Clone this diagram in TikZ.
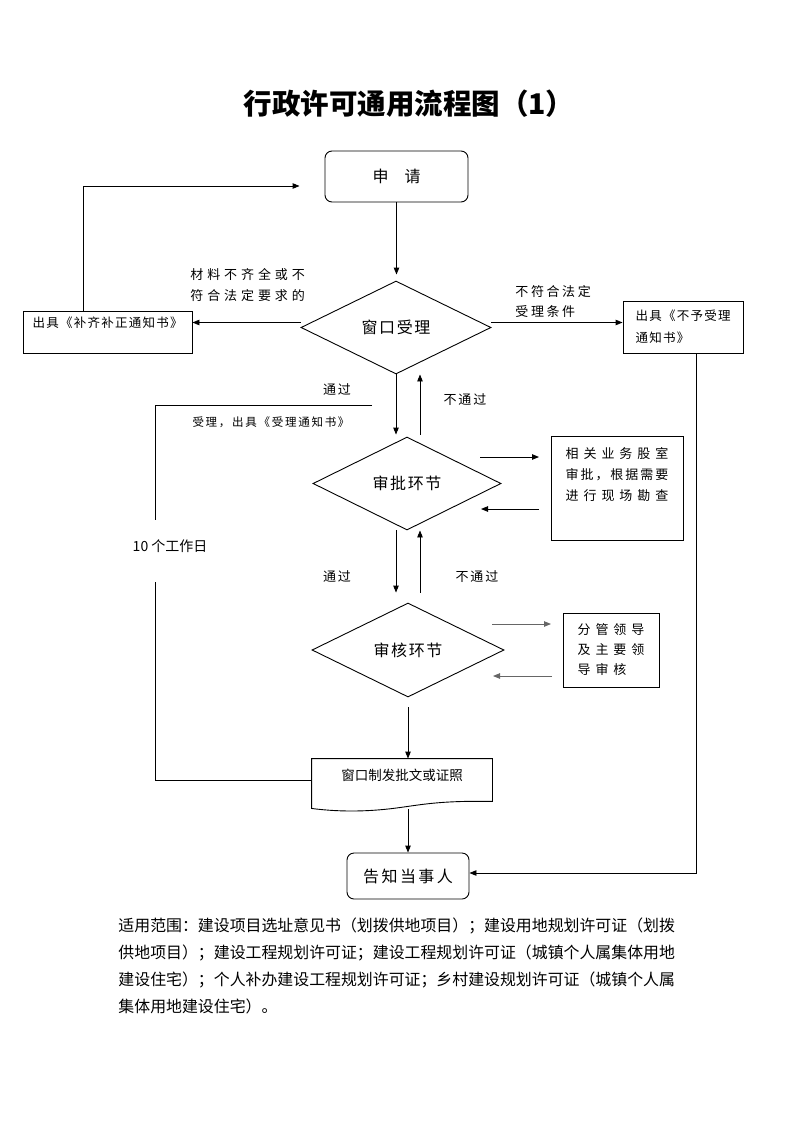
\documentclass[tikz,border=0pt]{standalone}
\usepackage{fontspec}
\setmainfont{Noto Sans CJK SC}
\newfontfamily\lsa[LetterSpace=10]{Noto Sans CJK SC}
\newfontfamily\lsb[LetterSpace=15]{Noto Sans CJK SC}
\newfontfamily\lsc[LetterSpace=20]{Noto Sans CJK SC}
\newfontfamily\lsd[LetterSpace=30]{Noto Sans CJK SC}
\newfontfamily\lse[LetterSpace=38]{Noto Sans CJK SC}
\usetikzlibrary{shapes.geometric,arrows.meta,calc}
\begin{document}
\begin{tikzpicture}[x=1pt,y=-1pt,
  line width=0.9pt,
  arr/.style={-{Triangle[length=7pt,width=5.5pt]}},
  garr/.style={arr,draw=black!60},
  rbox/.style={draw,rounded corners=7pt,inner sep=0pt},
  pbox/.style={draw,inner sep=0pt,align=left},
  dia/.style={draw,diamond,inner sep=0pt},
  lab/.style={inner sep=0pt,align=left}]
\useasboundingbox (0,0) rectangle (793,1122);

% title
\node[inner sep=0pt,font={\fontsize{28.5}{30}\selectfont\bfseries}] (title) at (409,104) {行政许可通用流程图（1）};

% main nodes
\node[rbox,minimum width=143,minimum height=51,font={\fontsize{16}{18}\selectfont}] (apply) at (396.5,176.5) {申\hspace{16pt}请};
\node[dia,minimum width=190,minimum height=93,font={\fontsize{16}{18}\selectfont\lsa}] (d1) at (396,327.5) {窗口受理};
\node[pbox,minimum width=169,minimum height=42,font={\fontsize{12.5}{20}\selectfont\lsa}] (lbox) at (107.5,332) {出具《补齐补正通知书》\\\mbox{}};
\node[pbox,minimum width=120,minimum height=52,font={\fontsize{12.5}{22}\selectfont\lsa}] (rbox) at (683,327) {出具《不予受理\\通知书》};

\node[dia,minimum width=188,minimum height=93,font={\fontsize{16}{18}\selectfont\lsa}] (d2) at (407,483.5) {审批环节};
\node[pbox,minimum width=132,minimum height=104,font={\fontsize{13}{21}\selectfont\lse}] (rb1) at (617,488) {相关业务股室\\\lsb 审批，根据需要\\进行现场勘查\\[7pt]\mbox{}};

\node[dia,minimum width=192,minimum height=94,font={\fontsize{16}{18}\selectfont\lsa}] (d3) at (408,650) {审核环节};
\node[pbox,minimum width=96,minimum height=74,font={\fontsize{13}{20}\selectfont\lse}] (rb2) at (611,650) {分管领导\\及主要领\\导审核};

\node[inner sep=0pt,minimum width=180,minimum height=42] (doc) at (402,780) {};
\node[inner sep=0pt,font={\fontsize{13.5}{15}\selectfont}] (doctext) at (402,775) {窗口制发批文或证照};
\draw (doc.south west) -- (doc.north west) -- (doc.north east) -- (doc.south east)
  .. controls ($(doc.south east)+(-50,-1)$) and ($(doc.south east)+(-70,3)$) .. ($(doc.south east)+(-92,6)$)
  .. controls ($(doc.south east)+(-120,10)$) and ($(doc.south east)+(-150,11)$) .. ($(doc.south west)+(0,7)$)
  -- (doc.south west);

\node[rbox,minimum width=122,minimum height=46,font={\fontsize{16}{18}\selectfont\lsb}] (tell) at (408,876) {告知当事人};

% labels
\node[lab,anchor=west,font={\fontsize{13}{21}\selectfont\lsd}] (l1) at (190,285) {材料不齐全或不\\符合法定要求的};
\node[lab,anchor=west,font={\fontsize{13}{20}\selectfont\lsc}] (l2) at (515,302) {不符合法定\\受理条件};
\node[lab,font={\fontsize{13}{15}\selectfont\lsb}] (l3) at (337,390) {通过};
\node[lab,font={\fontsize{13}{15}\selectfont\lsb}] (l4) at (465,400) {不通过};
\node[lab,font={\fontsize{11.5}{13}\selectfont\lsb}] (l5) at (271,422) {受理，出具《受理通知书》};
\node[lab,font={\fontsize{14}{16}\selectfont}] (l6) at (170,546) {10\hspace{3pt}个工作日};
\node[lab,font={\fontsize{13}{15}\selectfont\lsb}] (l7) at (337,577) {通过};
\node[lab,font={\fontsize{13}{15}\selectfont\lsb}] (l8) at (477,577) {不通过};

% bottom paragraph
\node[lab,anchor=north west,font={\fontsize{15.9}{27.3}\selectfont}] (scope) at (118,917) {适用范围：建设项目选址意见书（划拨供地项目）；建设用地规划许可证（划拨\\
供地项目）；建设工程规划许可证；建设工程规划许可证（城镇个人属集体用地\\
建设住宅）；个人补办建设工程规划许可证；乡村建设规划许可证（城镇个人属\\
集体用地建设住宅）。};

% coordinates
\coordinate (c1) at (83,186);
\coordinate (c2) at (696,873);
\coordinate (c3) at (372,405);
\coordinate (c4) at (155,405);
\coordinate (c5) at (155,520);
\coordinate (c6) at (155,582);
\coordinate (ua) at (420,0);
\coordinate (dn) at (396,0);
\coordinate (a1) at (480,457);
\coordinate (a2) at (539,457);
\coordinate (a3) at (539,509);
\coordinate (a4) at (481,509);
\coordinate (b1) at (492,624);
\coordinate (b2) at (551,624);
\coordinate (b3) at (552,676);
\coordinate (b4) at (493,676);

% connectors
\draw[arr,shorten >=6pt] (apply.south) -- (apply.south |- d1.north);
\draw[arr] ([yshift=5pt]d1.west) -- ([yshift=5pt]d1.west -| lbox.east);
\draw[arr] ([yshift=5pt]d1.east) -- ([yshift=5pt]d1.east -| rbox.west);
\draw[arr] (lbox.north -| c1) -- (c1) -- ([xshift=-25pt]c1 -| apply.west);
\draw[arr] (rbox.south -| c2) -- (c2) -- (c2 -| tell.east);

\draw[arr,shorten >=2pt] (d1.south -| dn) -- (d2.north -| dn);
\draw[arr] ([yshift=2pt]d2.north -| ua) -- (d1.south -| ua);
\draw[arr,shorten >=10pt] (d2.south -| dn) -- (d3.north -| dn);
\draw[arr,shorten <=10pt] (d3.north -| ua) -- (d2.south -| ua);

\draw (c3) -- (c4) -- (c5);
\draw (c6) -- (c6 |- doc.west) -- (doc.west);

\draw[arr] (a1) -- (a2);
\draw[arr] (a3) -- (a4);
\draw[garr] (b1) -- (b2);
\draw[garr] (b3) -- (b4);

\draw[arr,shorten <=10pt] (d3.south) -- (d3.south |- doc.north);
\draw[arr] ([yshift=-8pt]doc.south -| tell.north) -- (tell.north);
\end{tikzpicture}
\end{document}
